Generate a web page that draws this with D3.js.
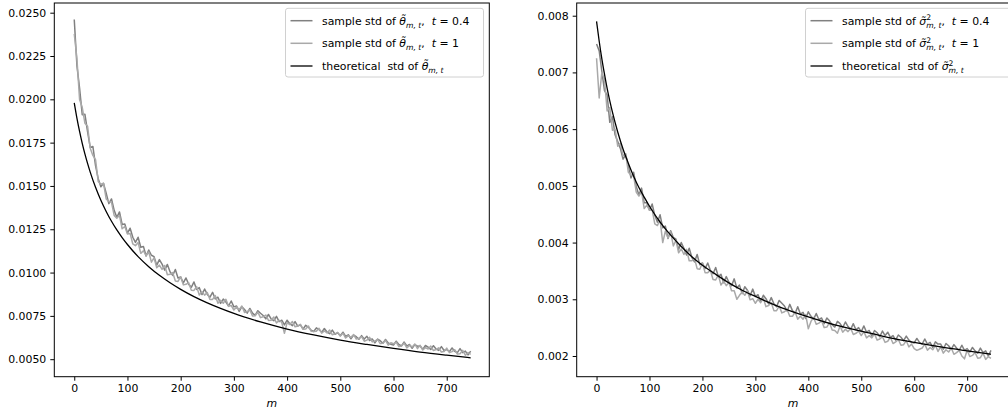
<!DOCTYPE html>
<html>
<head>
<meta charset="utf-8">
<script src="https://cdn.jsdelivr.net/npm/d3@7"></script>
<style>
  html, body { margin: 0; padding: 0; background: #fff; }
  svg { display: block; font-family: "DejaVu Sans", sans-serif; }
</style>
</head>
<body>
<svg id="chart" width="1008" height="413"></svg>
<script>
// ── Daten ─────────────────────────────────────────────
// Stichproben alle 5 Schritte von m = 0 bis 745
const M_STEP = 5;

const thetaSample04 = [
  0.02461, 0.02195, 0.02065, 0.01911, 0.01914, 0.01814, 0.01722, 0.01728, 0.01617, 0.01542,
  0.01495, 0.01515, 0.01458, 0.01398, 0.01425, 0.01359, 0.01319, 0.01350, 0.01278, 0.01281,
  0.01228, 0.01256, 0.01204, 0.01174, 0.01204, 0.01146, 0.01151, 0.01096, 0.01130, 0.01100,
  0.01092, 0.01043, 0.01075, 0.01049, 0.01014, 0.01047, 0.01005, 0.00984, 0.01018, 0.00969,
  0.00974, 0.00940, 0.00969, 0.00933, 0.00915, 0.00946, 0.00903, 0.00913, 0.00873, 0.00905,
  0.00874, 0.00858, 0.00886, 0.00848, 0.00858, 0.00822, 0.00847, 0.00830, 0.00807, 0.00836,
  0.00802, 0.00807, 0.00776, 0.00803, 0.00787, 0.00766, 0.00793, 0.00766, 0.00753, 0.00780,
  0.00765, 0.00752, 0.00733, 0.00758, 0.00733, 0.00722, 0.00747, 0.00717, 0.00725, 0.00698,
  0.00725, 0.00705, 0.00694, 0.00717, 0.00691, 0.00698, 0.00674, 0.00696, 0.00684, 0.00668,
  0.00660, 0.00681, 0.00671, 0.00655, 0.00677, 0.00657, 0.00647, 0.00668, 0.00644, 0.00652,
  0.00635, 0.00656, 0.00632, 0.00641, 0.00618, 0.00639, 0.00630, 0.00615, 0.00636, 0.00616,
  0.00632, 0.00608, 0.00617, 0.00594, 0.00616, 0.00607, 0.00592, 0.00614, 0.00594, 0.00586,
  0.00582, 0.00604, 0.00585, 0.00577, 0.00599, 0.00576, 0.00585, 0.00563, 0.00584, 0.00575,
  0.00576, 0.00557, 0.00579, 0.00570, 0.00556, 0.00578, 0.00559, 0.00551, 0.00573, 0.00550,
  0.00556, 0.00543, 0.00565, 0.00546, 0.00538, 0.00561, 0.00538, 0.00547, 0.00525, 0.00547
];

const thetaSample1 = [
  0.02378, 0.02236, 0.01999, 0.01954, 0.01862, 0.01845, 0.01718, 0.01676, 0.01652, 0.01526,
  0.01510, 0.01516, 0.01425, 0.01410, 0.01405, 0.01330, 0.01314, 0.01331, 0.01253, 0.01266,
  0.01223, 0.01226, 0.01165, 0.01155, 0.01174, 0.01111, 0.01126, 0.01097, 0.01119, 0.01060,
  0.01085, 0.01028, 0.01043, 0.01018, 0.01041, 0.00987, 0.00990, 0.01000, 0.00951, 0.00949,
  0.00976, 0.00929, 0.00932, 0.00942, 0.00898, 0.00897, 0.00919, 0.00871, 0.00890, 0.00870,
  0.00885, 0.00845, 0.00845, 0.00867, 0.00823, 0.00840, 0.00823, 0.00846, 0.00805, 0.00810,
  0.00784, 0.00801, 0.00786, 0.00807, 0.00770, 0.00775, 0.00785, 0.00750, 0.00751, 0.00772,
  0.00740, 0.00745, 0.00755, 0.00724, 0.00725, 0.00744, 0.00709, 0.00725, 0.00712, 0.00650,
  0.00711, 0.00700, 0.00717, 0.00687, 0.00692, 0.00701, 0.00673, 0.00675, 0.00692, 0.00662,
  0.00660, 0.00662, 0.00678, 0.00650, 0.00663, 0.00652, 0.00668, 0.00641, 0.00646, 0.00655,
  0.00634, 0.00650, 0.00622, 0.00636, 0.00626, 0.00642, 0.00616, 0.00621, 0.00630, 0.00604,
  0.00610, 0.00626, 0.00600, 0.00605, 0.00615, 0.00590, 0.00592, 0.00609, 0.00581, 0.00595,
  0.00589, 0.00599, 0.00573, 0.00576, 0.00593, 0.00565, 0.00580, 0.00571, 0.00588, 0.00561,
  0.00580, 0.00553, 0.00567, 0.00559, 0.00576, 0.00550, 0.00556, 0.00566, 0.00541, 0.00544,
  0.00564, 0.00538, 0.00544, 0.00555, 0.00530, 0.00532, 0.00551, 0.00523, 0.00538, 0.00528
];

const sigmaSample04 = [
  0.00750, 0.00738, 0.00702, 0.00668, 0.00660, 0.00612, 0.00622, 0.00590, 0.00578, 0.00566,
  0.00547, 0.00555, 0.00536, 0.00514, 0.00524, 0.00499, 0.00484, 0.00496, 0.00470, 0.00470,
  0.00457, 0.00468, 0.00448, 0.00436, 0.00449, 0.00426, 0.00429, 0.00407, 0.00421, 0.00409,
  0.00406, 0.00388, 0.00400, 0.00390, 0.00378, 0.00390, 0.00374, 0.00366, 0.00379, 0.00361,
  0.00364, 0.00354, 0.00364, 0.00351, 0.00345, 0.00356, 0.00340, 0.00344, 0.00329, 0.00340,
  0.00330, 0.00324, 0.00336, 0.00320, 0.00325, 0.00310, 0.00322, 0.00316, 0.00306, 0.00318,
  0.00305, 0.00308, 0.00296, 0.00307, 0.00301, 0.00292, 0.00303, 0.00292, 0.00287, 0.00298,
  0.00293, 0.00288, 0.00279, 0.00291, 0.00280, 0.00275, 0.00287, 0.00274, 0.00277, 0.00266,
  0.00278, 0.00270, 0.00265, 0.00275, 0.00264, 0.00267, 0.00257, 0.00267, 0.00262, 0.00255,
  0.00251, 0.00261, 0.00257, 0.00250, 0.00260, 0.00252, 0.00247, 0.00257, 0.00246, 0.00250,
  0.00243, 0.00253, 0.00242, 0.00245, 0.00235, 0.00245, 0.00241, 0.00234, 0.00244, 0.00236,
  0.00242, 0.00233, 0.00236, 0.00228, 0.00237, 0.00233, 0.00227, 0.00235, 0.00228, 0.00224,
  0.00223, 0.00231, 0.00224, 0.00221, 0.00230, 0.00221, 0.00224, 0.00215, 0.00225, 0.00221,
  0.00221, 0.00212, 0.00222, 0.00218, 0.00212, 0.00220, 0.00214, 0.00210, 0.00219, 0.00210,
  0.00213, 0.00207, 0.00215, 0.00209, 0.00205, 0.00214, 0.00206, 0.00209, 0.00200, 0.00210
];

const sigmaSample1 = [
  0.00725, 0.00655, 0.00700, 0.00688, 0.00632, 0.00638, 0.00598, 0.00600, 0.00570, 0.00575,
  0.00553, 0.00557, 0.00524, 0.00519, 0.00518, 0.00489, 0.00482, 0.00490, 0.00460, 0.00466,
  0.00457, 0.00458, 0.00433, 0.00430, 0.00440, 0.00400, 0.00420, 0.00408, 0.00419, 0.00394,
  0.00404, 0.00382, 0.00389, 0.00379, 0.00388, 0.00368, 0.00368, 0.00372, 0.00354, 0.00353,
  0.00364, 0.00347, 0.00347, 0.00351, 0.00335, 0.00334, 0.00343, 0.00325, 0.00332, 0.00324,
  0.00330, 0.00315, 0.00315, 0.00300, 0.00307, 0.00313, 0.00307, 0.00315, 0.00299, 0.00301,
  0.00293, 0.00300, 0.00294, 0.00302, 0.00287, 0.00289, 0.00294, 0.00280, 0.00280, 0.00288,
  0.00276, 0.00278, 0.00282, 0.00270, 0.00270, 0.00278, 0.00265, 0.00270, 0.00265, 0.00273,
  0.00248, 0.00261, 0.00268, 0.00256, 0.00258, 0.00262, 0.00250, 0.00251, 0.00259, 0.00246,
  0.00245, 0.00240, 0.00253, 0.00242, 0.00247, 0.00243, 0.00249, 0.00238, 0.00240, 0.00244,
  0.00236, 0.00243, 0.00232, 0.00236, 0.00232, 0.00239, 0.00228, 0.00230, 0.00234, 0.00224,
  0.00226, 0.00233, 0.00222, 0.00225, 0.00229, 0.00219, 0.00220, 0.00227, 0.00216, 0.00221,
  0.00213, 0.00210, 0.00212, 0.00214, 0.00221, 0.00210, 0.00215, 0.00211, 0.00219, 0.00208,
  0.00216, 0.00205, 0.00211, 0.00207, 0.00214, 0.00203, 0.00206, 0.00210, 0.00200, 0.00195,
  0.00210, 0.00199, 0.00201, 0.00206, 0.00196, 0.00197, 0.00205, 0.00194, 0.00199, 0.00196
];

// theoretische Kurven (Stützstellen)
const theoryM = [0, 5, 10, 15, 20, 25, 30, 40, 50, 60, 70, 80, 90, 100, 120, 140, 160, 180,
                 200, 225, 250, 275, 300, 350, 400, 450, 500, 550, 600, 650, 700, 745];
const thetaTheory = [0.01980, 0.01892, 0.01815, 0.01746, 0.01685, 0.01630, 0.01580, 0.01492,
                     0.01417, 0.01353, 0.01296, 0.01246, 0.01202, 0.01162, 0.01092, 0.01034,
                     0.00984, 0.00941, 0.00903, 0.00861, 0.00825, 0.00793, 0.00764, 0.00715,
                     0.00674, 0.00640, 0.00610, 0.00585, 0.00562, 0.00541, 0.00523, 0.00508];
const sigmaTheory = [0.00790, 0.00755, 0.00724, 0.00697, 0.00672, 0.00650, 0.00630, 0.00595,
                     0.00565, 0.00540, 0.00517, 0.00497, 0.00480, 0.00464, 0.00436, 0.00413,
                     0.00393, 0.00375, 0.00360, 0.00344, 0.00329, 0.00316, 0.00305, 0.00285,
                     0.00269, 0.00255, 0.00244, 0.00233, 0.00224, 0.00216, 0.00209, 0.00203];

const xTicks = [0, 100, 200, 300, 400, 500, 600, 700];
const thetaTicks = [0.0050, 0.0075, 0.0100, 0.0125, 0.0150, 0.0175, 0.0200, 0.0225, 0.0250];
const sigmaTicks = [0.002, 0.003, 0.004, 0.005, 0.006, 0.007, 0.008];

// ── Stil ──────────────────────────────────────────────
const FONT = 10.9;
const C_T04 = '#808080';
const C_T1 = '#a9a9a9';
const C_THEORY = '#000';

const svg = d3.select('#chart');
svg.append('rect').attr('width', 1008).attr('height', 413).attr('fill', '#fff');

const mSample = d3.range(thetaSample04.length).map(i => i * M_STEP);

// Text mit Index-Notation aus Teilen bauen
function mathText(sel, parts) {
  const t = sel.append('text')
    .attr('font-size', FONT)
    .attr('fill', '#000')
    .style('white-space', 'pre');
  let cur = 0;
  parts.forEach(p => {
    const target = p.sub ? 2.9 : p.sup ? -4.2 : 0;
    const ts = t.append('tspan').text(p.t).attr('dy', target - cur);
    cur = target;
    if (p.it) ts.attr('font-style', 'italic');
    if (p.sub || p.sup) ts.attr('font-size', FONT * 0.7);
    if (p.dx) ts.attr('dx', p.dx);
  });
  return t;
}

function panel(cfg) {
  const x = d3.scaleLinear().domain([-37.5, 780]).range(cfg.xr);
  const y = d3.scaleLinear().domain(cfg.yd).range([376.7, 3]);
  const g = svg.append('g');

  const clipId = 'clip-' + cfg.id;
  g.append('clipPath').attr('id', clipId)
    .append('rect').attr('x', cfg.xr[0]).attr('y', 3)
    .attr('width', cfg.xr[1] - cfg.xr[0]).attr('height', 373.7);

  const line = d3.line().x(d => x(d[0])).y(d => y(d[1]));
  const plot = g.append('g').attr('clip-path', `url(#${clipId})`);

  const series = [
    { data: mSample.map((m, i) => [m, cfg.s04[i]]), color: C_T04, w: 1.5, curve: d3.curveLinear },
    { data: mSample.map((m, i) => [m, cfg.s1[i]]), color: C_T1, w: 1.5, curve: d3.curveLinear },
    { data: theoryM.map((m, i) => [m, cfg.theory[i]]), color: C_THEORY, w: 1.3, curve: d3.curveMonotoneX }
  ];
  series.forEach(s => {
    plot.append('path')
      .attr('d', line.curve(s.curve)(s.data))
      .attr('fill', 'none')
      .attr('stroke', s.color)
      .attr('stroke-width', s.w)
      .attr('stroke-linejoin', 'round');
  });

  // Achsen
  const ax = g.append('g').attr('transform', 'translate(0,376.7)')
    .call(d3.axisBottom(x).tickValues(xTicks).tickSize(4).tickPadding(3.5));
  const ay = g.append('g').attr('transform', `translate(${cfg.xr[0]},0)`)
    .call(d3.axisLeft(y).tickValues(cfg.ticks).tickFormat(d3.format(cfg.fmt)).tickSize(4).tickPadding(4));
  [ax, ay].forEach(a => {
    a.select('.domain').remove();
    a.selectAll('line').attr('stroke', '#000').attr('stroke-width', 1);
    a.selectAll('text').attr('font-size', FONT).attr('font-family', '"DejaVu Sans", sans-serif').attr('fill', '#000');
  });

  // Rahmen
  g.append('rect')
    .attr('x', cfg.xr[0]).attr('y', 3)
    .attr('width', cfg.xr[1] - cfg.xr[0]).attr('height', 373.7)
    .attr('fill', 'none').attr('stroke', '#000').attr('stroke-width', 1);

  g.append('text')
    .attr('x', (cfg.xr[0] + cfg.xr[1]) / 2).attr('y', 406.5)
    .attr('text-anchor', 'middle')
    .attr('font-size', FONT).attr('font-style', 'italic')
    .text('m');

  // Legende
  const lg = g.append('g');
  lg.append('rect')
    .attr('x', cfg.lx).attr('y', 8.3)
    .attr('width', cfg.lw).attr('height', 68.7)
    .attr('rx', 2.5)
    .attr('fill', '#fff').attr('fill-opacity', 0.8)
    .attr('stroke', '#d0d0d0').attr('stroke-width', 1);
  const rowsY = [20.7, 43.3, 66];
  cfg.labels.forEach((parts, i) => {
    const c = series[i].color;
    lg.append('line')
      .attr('x1', cfg.lx + 5).attr('x2', cfg.lx + 27)
      .attr('y1', rowsY[i]).attr('y2', rowsY[i])
      .attr('stroke', c).attr('stroke-width', series[i].w);
    mathText(lg, parts).attr('x', cfg.lx + 36.5).attr('y', rowsY[i] + 3.9);
  });
}

const thetaSym = [{ t: 'θ\u0303', it: true }, { t: 'm, t', it: true, sub: true }];
const sigmaSym = [{ t: 'σ\u0303', it: true }, { t: '2', sup: true }, { t: 'm, t', it: true, sub: true, dx: -4.9 }];

panel({
  id: 'theta', xr: [54.3, 489.3], yd: [0.00399, 0.02556],
  s04: thetaSample04, s1: thetaSample1, theory: thetaTheory,
  ticks: thetaTicks, fmt: '.4f', lx: 285.5, lw: 198,
  labels: [
    [{ t: 'sample std of ' }, ...thetaSym, { t: ',  ' }, { t: 't', it: true }, { t: ' = 0.4' }],
    [{ t: 'sample std of ' }, ...thetaSym, { t: ',  ' }, { t: 't', it: true }, { t: ' = 1' }],
    [{ t: 'theoretical  std of ' }, ...thetaSym]
  ]
});

panel({
  id: 'sigma', xr: [576.7, 1009.5], yd: [0.001635, 0.008224],
  s04: sigmaSample04, s1: sigmaSample1, theory: sigmaTheory,
  ticks: sigmaTicks, fmt: '.3f', lx: 805.5, lw: 210,
  labels: [
    [{ t: 'sample std of ' }, ...sigmaSym, { t: ',  ' }, { t: 't', it: true }, { t: ' = 0.4' }],
    [{ t: 'sample std of ' }, ...sigmaSym, { t: ',  ' }, { t: 't', it: true }, { t: ' = 1' }],
    [{ t: 'theoretical  std of ' }, ...sigmaSym]
  ]
});
</script>
</body>
</html>
